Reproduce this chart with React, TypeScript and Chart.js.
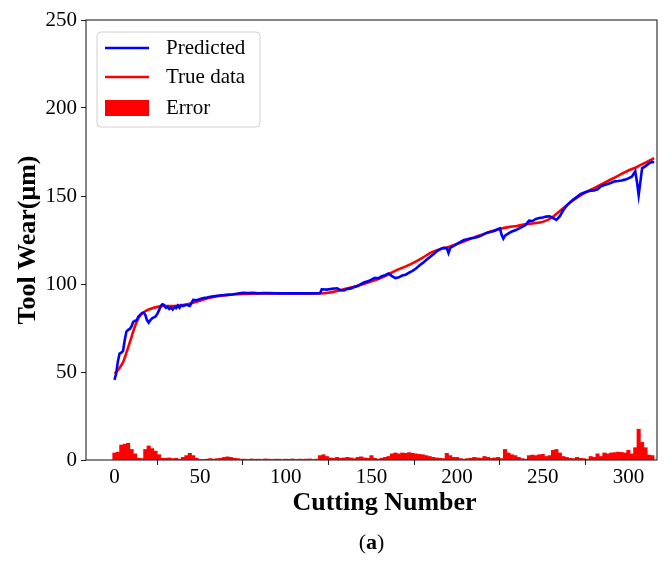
import React, { useEffect, useRef } from "react";
import { Chart, registerables } from "chart.js";

Chart.register(...registerables);

const FONT = '"Liberation Serif", "Times New Roman", Times, serif';

const xTicks = [0, 50, 100, 150, 200, 250, 300];
const yTicks = [0, 50, 100, 150, 200, 250];
const xTitle = "Cutting Number";
const yTitle = "Tool Wear(μm)";

const trueCuts = [0, 2, 5, 7, 10, 12, 14, 16, 18, 20, 25, 30, 35, 40, 45, 50, 55, 60, 65, 70, 80, 90, 100, 110, 120, 125, 130, 135, 140, 145, 150, 155, 160, 165, 170, 175, 180, 185, 190, 195, 200, 205, 210, 215, 220, 225, 230, 235, 240, 245, 250, 255, 260, 265, 270, 275, 280, 285, 290, 295, 300, 305, 310, 315];
const trueWear = [49, 51, 55.5, 61, 70, 76, 80.5, 83, 84.5, 85.5, 87, 87.5, 87.5, 88, 89, 90.5, 92, 93, 93.7, 94.2, 94.5, 94.6, 94.6, 94.6, 94.6, 95, 96, 97.3, 98.5, 99.8, 101.5, 103.2, 105.5, 108, 110, 112.3, 115, 118, 119.8, 121, 122.8, 124.5, 126.5, 128.2, 130, 131.3, 132.3, 133, 134, 134.5, 135.3, 137.5, 141.5, 145.5, 149, 152, 154.5, 157, 159.5, 162, 164.5, 166.5, 169, 171.5];

const predCuts = [0, 1, 2, 3, 4, 5, 6, 7, 8, 9, 10, 11, 12, 13, 14, 15, 16, 17, 18, 19, 20, 21, 22, 23, 24, 25, 26, 27, 28, 29, 30, 31, 32, 33, 34, 35, 36, 37, 38, 39, 40, 42, 44, 46, 48, 50, 52, 54, 56, 58, 60, 63, 66, 69, 72, 75, 78, 81, 84, 87, 90, 95, 100, 105, 110, 115, 120, 121, 124, 127, 130, 132, 134, 136, 138, 140, 142, 144, 146, 148, 150, 152, 154, 156, 158, 160, 162, 164, 166, 168, 170, 172, 174, 176, 178, 180, 182, 184, 186, 188, 190, 192, 194, 195, 196, 198, 200, 202, 204, 206, 208, 210, 212, 214, 216, 218, 220, 222, 224, 225, 226, 227, 228, 230, 232, 234, 236, 238, 240, 242, 244, 246, 248, 250, 252, 254, 256, 258, 260, 262, 264, 266, 268, 270, 272, 274, 276, 278, 280, 282, 284, 286, 288, 290, 292, 294, 296, 298, 300, 302, 304, 305, 306, 307, 308, 310, 312, 314, 315];
const predWear = [45.5, 49, 56, 60.5, 61, 62, 68, 73, 74, 74.5, 76, 78.5, 79, 79.5, 81.5, 82.5, 83.5, 83.8, 82.5, 79.5, 78, 79.5, 80.5, 81, 81.5, 83, 85, 87.5, 88.5, 88, 86.5, 87, 85.8, 86.5, 85.5, 87, 86.3, 87.8, 86.5, 88, 87.5, 88.2, 87.5, 91, 90.8, 91.5, 92, 92.3, 92.7, 93, 93.3, 93.6, 93.8, 94, 94.6, 95, 94.8, 95, 94.7, 94.9, 94.8, 94.7, 94.7, 94.7, 94.7, 94.7, 94.8, 97, 96.8, 97.3, 97.6, 96.5, 96.3, 97.2, 97.5, 98.3, 98.8, 100, 101, 101.5, 102.5, 103.5, 103.2, 104.5, 105, 106, 104.5, 103.3, 103.8, 104.8, 105.3, 106.5, 107.5, 108.8, 110.5, 112, 113.6, 115.2, 116.8, 118.5, 119.7, 120.5, 120.3, 117.6, 120.5, 121.6, 122.8, 124, 125, 125.4, 126, 126.3, 126.7, 127.5, 128.5, 129.3, 129.7, 130.3, 131.3, 131.6, 128, 125.8, 127.5, 128.8, 129.8, 130.5, 131.5, 132.5, 133.5, 136, 135.8, 137, 137.5, 137.8, 138.3, 138.5, 137.5, 136.4, 138.5, 142, 144.5, 146.5, 148.1, 149.5, 151, 151.9, 152.5, 153, 153.2, 153.8, 155.5, 156.2, 156.8, 157.5, 158.3, 158.5, 158.8, 159.3, 160, 161, 164, 158, 150.5, 158, 165.7, 167, 168.5, 169.5, 169];

// error bars every 2 cuts, starting at cut 0
const errorValues = [4, 4.5, 8.5, 9, 9.5, 6, 3.5, 1, 0.8, 6, 8, 6.5, 5, 3, 1, 1, 1.2, 0.8, 1, 0.5, 1.5, 2.5, 3.8, 2.5, 1, 0.3, 0.3, 0.5, 0.8, 0.5, 0.8, 1, 1.5, 1.8, 1.5, 1, 0.8, 0.5, 0.5, 0.3, 0.6, 0.4, 0.5, 0.3, 0.6, 0.5, 0.3, 0.5, 0.5, 0.3, 0.5, 0.4, 0.6, 0.3, 0.5, 0.4, 0.5, 0.6, 0.3, 0.5, 2.5, 3, 2, 1.2, 1, 1.5, 1, 1.2, 1.5, 1.2, 0.8, 1.5, 1.8, 1.2, 1, 2.5, 1, 0.5, 1, 1.5, 2, 3.5, 4, 3.5, 4, 3.8, 4.2, 3.8, 3.5, 3.2, 3, 2.5, 2, 1.5, 1.2, 1, 0.8, 3.8, 2.5, 1.5, 1.5, 0.8, 0.5, 0.8, 1, 1.5, 1.2, 1, 2, 1.5, 1, 1.2, 1.5, 0.8, 6, 4, 3, 2.5, 1.5, 0.8, 0.5, 2.5, 2.8, 2.5, 3, 3.2, 2, 2.5, 5.5, 6, 4, 2, 1.5, 1, 0.8, 1.5, 1, 0.8, 0.5, 2, 1.5, 3.5, 2, 4, 3.5, 4, 4.2, 4.5, 4.3, 4, 5.5, 3.5, 7, 17.5, 10, 7, 2.8, 2.5];
const errorCuts = errorValues.map((_, i) => i * 2);

const X_MIN = -16.6;
const X_MAX = 316.7;

const decorPlugin = {
  id: "decor",
  afterDraw(chart: any) {
    const { ctx, chartArea } = chart;
    const { left, top, right, bottom } = chartArea;
    ctx.save();
    // frame (spines)
    ctx.strokeStyle = "#222";
    ctx.lineWidth = 1.1;
    ctx.strokeRect(left, top, right - left, bottom - top);

    // legend
    const bx = left + 11;
    const by = top + 12;
    const bw = 163;
    const bh = 95;
    const r = 4;
    ctx.beginPath();
    ctx.moveTo(bx + r, by);
    ctx.lineTo(bx + bw - r, by);
    ctx.quadraticCurveTo(bx + bw, by, bx + bw, by + r);
    ctx.lineTo(bx + bw, by + bh - r);
    ctx.quadraticCurveTo(bx + bw, by + bh, bx + bw - r, by + bh);
    ctx.lineTo(bx + r, by + bh);
    ctx.quadraticCurveTo(bx, by + bh, bx, by + bh - r);
    ctx.lineTo(bx, by + r);
    ctx.quadraticCurveTo(bx, by, bx + r, by);
    ctx.closePath();
    ctx.fillStyle = "rgba(255,255,255,0.85)";
    ctx.fill();
    ctx.strokeStyle = "#d0d0d0";
    ctx.lineWidth = 1;
    ctx.stroke();

    const ds = chart.data.datasets;
    const rows = [by + 16, by + 45, by + 76];
    ctx.font = `21px ${FONT}`;
    ctx.textBaseline = "middle";
    ctx.textAlign = "left";
    ds.forEach((d: any, i: number) => {
      const y = rows[i];
      if (d.type === "bar") {
        ctx.fillStyle = d.backgroundColor;
        ctx.fillRect(bx + 8, y - 8, 44, 16);
      } else {
        ctx.strokeStyle = d.borderColor;
        ctx.lineWidth = 2.5;
        ctx.beginPath();
        ctx.moveTo(bx + 8, y);
        ctx.lineTo(bx + 52, y);
        ctx.stroke();
      }
      ctx.fillStyle = "#000";
      ctx.fillText(d.label, bx + 69, y);
    });

    // x-axis title (slightly right of axes centre, as in the reference)
    ctx.font = `bold 26px ${FONT}`;
    ctx.textAlign = "center";
    ctx.fillStyle = "#000";
    ctx.fillText(xTitle, (left + right) / 2 + 13, 503);

    // caption "(a)"
    const cy = 543;
    const cx = (left + right) / 2;
    const fN = `22px ${FONT}`;
    const fB = `bold 22px ${FONT}`;
    ctx.textAlign = "left";
    ctx.font = fN;
    const w1 = ctx.measureText("(").width;
    const w3 = ctx.measureText(")").width;
    ctx.font = fB;
    const w2 = ctx.measureText("a").width;
    let sx = cx - (w1 + w2 + w3) / 2;
    ctx.font = fN;
    ctx.fillText("(", sx, cy);
    sx += w1;
    ctx.font = fB;
    ctx.fillText("a", sx, cy);
    sx += w2;
    ctx.font = fN;
    ctx.fillText(")", sx, cy);
    ctx.restore();
  },
};

export default function App() {
  const ref = useRef<HTMLCanvasElement | null>(null);

  useEffect(() => {
    if (!ref.current) return;
    const chart = new Chart(ref.current, {
      type: "line",
      data: {
        datasets: [
          {
            type: "line",
            label: "Predicted",
            data: predCuts.map((x, i) => ({ x, y: predWear[i] })),
            borderColor: "#0000ff",
            backgroundColor: "#0000ff",
            borderWidth: 2.6,
            pointRadius: 0,
            tension: 0,
          },
          {
            type: "line",
            label: "True data",
            data: trueCuts.map((x, i) => ({ x, y: trueWear[i] })),
            borderColor: "#ff0000",
            backgroundColor: "#ff0000",
            borderWidth: 2.6,
            pointRadius: 0,
            tension: 0.3,
          },
          {
            type: "bar",
            label: "Error",
            data: errorCuts.map((x, i) => ({ x, y: errorValues[i] })),
            backgroundColor: "#ff0000",
            borderWidth: 0,
            barPercentage: 1,
            categoryPercentage: 1,
            grouped: false,
          } as any,
        ],
      },
      options: {
        responsive: false,
        animation: false,
        layout: { padding: { top: 20, right: 15, bottom: 0, left: 0 } },
        plugins: {
          legend: { display: false },
          tooltip: { enabled: false },
        },
        scales: {
          x: {
            type: "linear",
            min: X_MIN,
            max: X_MAX,
            offset: false,
            afterBuildTicks: (s: any) => {
              s.ticks = xTicks.map((v) => ({ value: v }));
            },
            afterFit: (s: any) => {
              s.height = 102;
            },
            border: { display: false },
            grid: {
              display: true,
              drawOnChartArea: false,
              drawTicks: true,
              tickLength: 5,
              tickColor: "#222",
              tickWidth: 1.1,
            },
            ticks: {
              padding: 0,
              color: "#000",
              font: { family: FONT, size: 21 },
              maxRotation: 0,
              autoSkip: false,
            },
            title: { display: false },
          },
          y: {
            type: "linear",
            min: 0,
            max: 250,
            afterBuildTicks: (s: any) => {
              s.ticks = yTicks.map((v) => ({ value: v }));
            },
            afterFit: (s: any) => {
              s.width = 86;
            },
            border: { display: false },
            grid: {
              display: true,
              drawOnChartArea: false,
              drawTicks: true,
              tickLength: 5,
              tickColor: "#222",
              tickWidth: 1.1,
            },
            ticks: {
              padding: 4,
              color: "#000",
              font: { family: FONT, size: 21 },
            },
            title: {
              display: true,
              text: yTitle,
              color: "#000",
              font: { family: FONT, size: 26, weight: "bold" },
              padding: { top: 13, bottom: 0 },
            },
          },
        },
      } as any,
      plugins: [decorPlugin],
    });
    return () => chart.destroy();
  }, []);

  return (
    <div style={{ position: "absolute", left: 0, top: 0, width: 672, height: 562, background: "#fff" }}>
      <canvas ref={ref} width={672} height={562} style={{ width: 672, height: 562, display: "block" }} />
    </div>
  );
}
